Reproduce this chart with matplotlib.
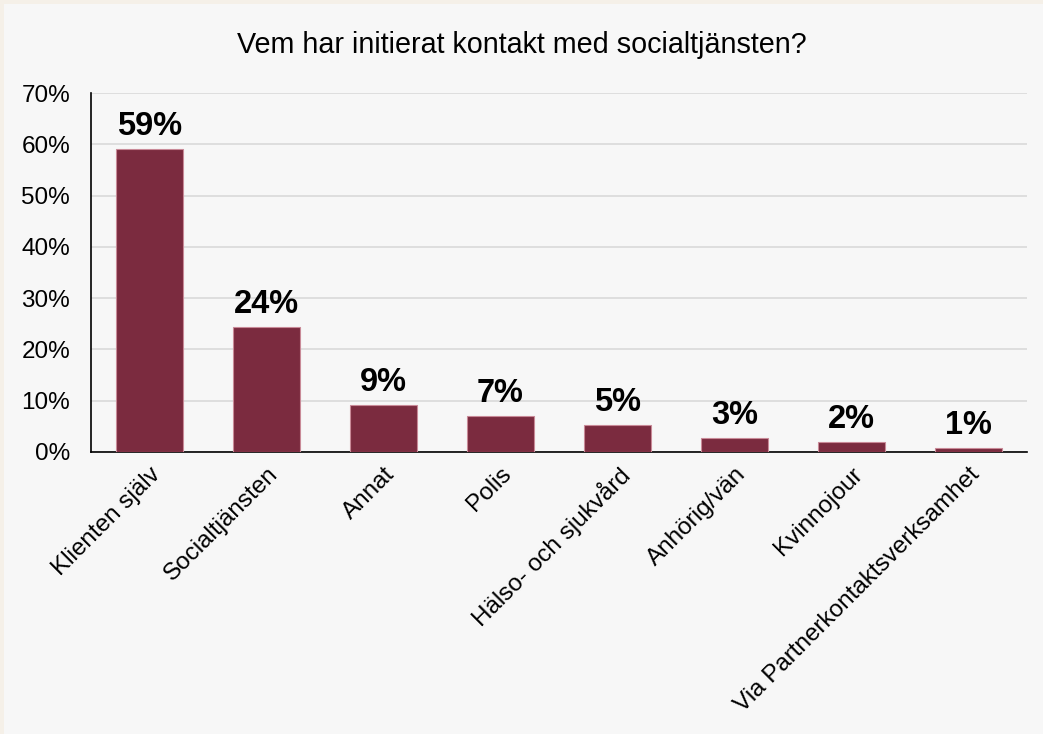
import matplotlib
matplotlib.use("Agg")
import matplotlib.pyplot as plt
from matplotlib.patches import Rectangle

categories = ["Klienten själv", "Socialtjänsten", "Annat", "Polis",
              "Hälso- och sjukvård", "Anhörig/vän", "Kvinnojour",
              "Via Partnerkontaktsverksamhet"]
values = [59.0, 24.4, 9.1, 7.1, 5.2, 2.8, 2.0, 0.7]
labels = ["59%", "24%", "9%", "7%", "5%", "3%", "2%", "1%"]
yticks = [0, 10, 20, 30, 40, 50, 60, 70]
title = "Vem har initierat kontakt med socialtjänsten?"

plt.rcParams['font.family'] = ['Liberation Sans', 'DejaVu Sans']

fig = plt.figure(figsize=(10.43, 7.34), dpi=100)
fig.patch.set_facecolor('#f5f0e8')
bg = Rectangle((4/1043, 0), 1, 1 - 4/734, transform=fig.transFigure,
               facecolor='#f7f7f7', edgecolor='none', zorder=-10)
fig.add_artist(bg)

ax = fig.add_axes([91/1043, 1 - 452/734, (1027 - 91)/1043, (452 - 93)/734])
ax.set_zorder(1)
ax.set_facecolor('#f7f7f7')

x = list(range(len(categories)))
bars = ax.bar(x, values, width=0.58, color='#7b2b3f', edgecolor='#c98a98',
              linewidth=0.8, zorder=3)
for xi, v, lab in zip(x, values, labels):
    ax.annotate(lab, (xi, v), xytext=(0, 5), textcoords='offset points',
                ha='center', va='bottom', fontsize=23.5, fontweight='bold', color='black')

ax.set_xlim(-0.5, len(categories) - 0.5)
ax.set_ylim(0, 70)
ax.set_yticks(yticks)
ax.set_yticklabels([f"{t}%" for t in yticks], fontsize=17.5)
ax.set_xticks(x)
ax.set_xticklabels(categories, rotation=45, ha='right', va='top',
                   rotation_mode='anchor', fontsize=17.5)
ax.tick_params(axis='y', length=0, pad=15)
ax.tick_params(axis='x', length=0, pad=8)
ax.grid(axis='y', color='#d9d9d9', linewidth=1.2, zorder=0)
ax.set_axisbelow(True)
for s in ['top', 'right']:
    ax.spines[s].set_visible(False)
ax.spines['left'].set_color('black')
ax.spines['bottom'].set_color('black')
ax.spines['left'].set_linewidth(1.2)
ax.spines['bottom'].set_linewidth(1.2)

fig.text(0.5, 1 - 45/734, title, ha='center', va='center', fontsize=20.7)

fig.savefig("out.png", dpi=100, facecolor=fig.get_facecolor())
